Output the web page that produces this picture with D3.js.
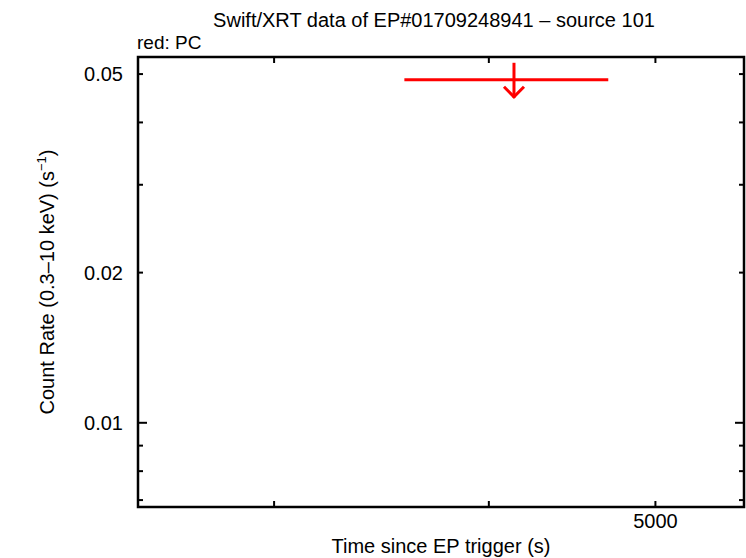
<!DOCTYPE html>
<html lang="en">
  <head>
    <meta charset="UTF-8" />
    <title>Swift/XRT light curve</title>
    <style>
      body { margin: 0; background: #fff; }
      svg { font-family: "Liberation Sans", Arial, sans-serif; }
    </style>
  </head>
  <body>
    <div id="chart">
      <svg width="746" height="558"></svg>
    </div>
    <script src="https://d3js.org/d3.v7.min.js"></script>
    <script>
      // data
      var xDomain = [2500, 5630];
      var yDomain = [0.00678, 0.0541];
      var xTicks = [3000, 4000, 5000];
      var xTickLabels = ["", "", "5000"];
      var yMajorTicks = [0.01];
      var yMinorTicks = [0.007, 0.008, 0.009, 0.02, 0.03, 0.04, 0.05];
      var yTickLabels = [0.01, 0.02, 0.05];
      // PC mode upper limit: time, time low, time high, rate
      var pcTime = [4137];
      var pcTimeLo = [3572];
      var pcTimeHi = [4694];
      var pcRate = [0.0487];

      var svg = d3.select("#chart>svg");
      var margin = { top: 57, right: 2, bottom: 51, left: 138 };
      var width = +svg.attr("width") - margin.left - margin.right;
      var height = +svg.attr("height") - margin.top - margin.bottom;
      var fs = 20;

      var x = d3.scaleLog().domain(xDomain).range([margin.left, margin.left + width]);
      var y = d3.scaleLog().domain(yDomain).range([margin.top + height, margin.top]);

      var fmt = function (d) {
        return d3.format(".2f")(d);
      };

      // title
      svg.append("text")
        .attr("x", 434)
        .attr("y", 27)
        .attr("text-anchor", "middle")
        .attr("font-size", fs)
        .text("Swift/XRT data of EP#01709248941 \u2013 source 101");

      svg.append("text")
        .attr("x", 137)
        .attr("y", 49)
        .attr("font-size", 19)
        .text("red: PC");

      // ticks (inward, mirrored)
      var g = svg.append("g").attr("stroke", "#000").attr("stroke-width", 2);
      xTicks.forEach(function (t) {
        g.append("line").attr("x1", x(t)).attr("x2", x(t))
          .attr("y1", y.range()[0]).attr("y2", y.range()[0] - 6);
        g.append("line").attr("x1", x(t)).attr("x2", x(t))
          .attr("y1", y.range()[1]).attr("y2", y.range()[1] + 6);
      });
      yMajorTicks.concat(yMinorTicks).forEach(function (t) {
        var len = yMajorTicks.indexOf(t) >= 0 ? 9 : 5;
        g.append("line").attr("y1", y(t)).attr("y2", y(t))
          .attr("x1", x.range()[0]).attr("x2", x.range()[0] + len);
        g.append("line").attr("y1", y(t)).attr("y2", y(t))
          .attr("x1", x.range()[1]).attr("x2", x.range()[1] - len);
      });

      // tick labels
      svg.selectAll(".ylab")
        .data(yTickLabels)
        .enter()
        .append("text")
        .attr("x", 123)
        .attr("y", function (d) { return y(d) + 7; })
        .attr("text-anchor", "end")
        .attr("font-size", fs)
        .text(fmt);

      svg.selectAll(".xlab")
        .data(xTicks)
        .enter()
        .append("text")
        .attr("x", function (d) { return x(d); })
        .attr("y", 528)
        .attr("text-anchor", "middle")
        .attr("font-size", fs)
        .text(function (d, i) { return xTickLabels[i]; });

      // axis titles
      svg.append("text")
        .attr("x", 441)
        .attr("y", 553)
        .attr("text-anchor", "middle")
        .attr("font-size", fs)
        .text("Time since EP trigger (s)");

      var yl = svg.append("text")
        .attr("transform", "translate(54," + 282 + ") rotate(-90)")
        .attr("text-anchor", "middle")
        .attr("font-size", fs);
      yl.append("tspan").text("Count Rate (0.3\u201310 keV) (s");
      yl.append("tspan").attr("font-size", 13).attr("dy", -8).text("\u22121");
      yl.append("tspan").attr("dy", 8).text(")");

      // data: upper limit with arrow
      var pts = pcTime.map(function (t, i) {
        return { t: t, lo: pcTimeLo[i], hi: pcTimeHi[i], r: pcRate[i] };
      });
      var red = svg.append("g").attr("stroke", "#ff0000").attr("stroke-width", 3).attr("fill", "none");
      pts.forEach(function (d) {
        var cx = x(d.t), cy = y(d.r);
        red.append("line").attr("x1", x(d.lo)).attr("x2", x(d.hi)).attr("y1", cy).attr("y2", cy);
        red.append("line").attr("x1", cx).attr("x2", cx).attr("y1", cy - 17).attr("y2", cy + 18);
        red.append("path").attr("d",
          "M" + (cx - 10) + "," + (cy + 7) + "L" + cx + "," + (cy + 17) + "L" + (cx + 10) + "," + (cy + 7));
      });

      // frame
      svg.append("rect")
        .attr("x", margin.left)
        .attr("y", margin.top)
        .attr("width", width)
        .attr("height", height)
        .attr("fill", "none")
        .attr("stroke", "#000")
        .attr("stroke-width", 2.5);
    </script>
  </body>
</html>
